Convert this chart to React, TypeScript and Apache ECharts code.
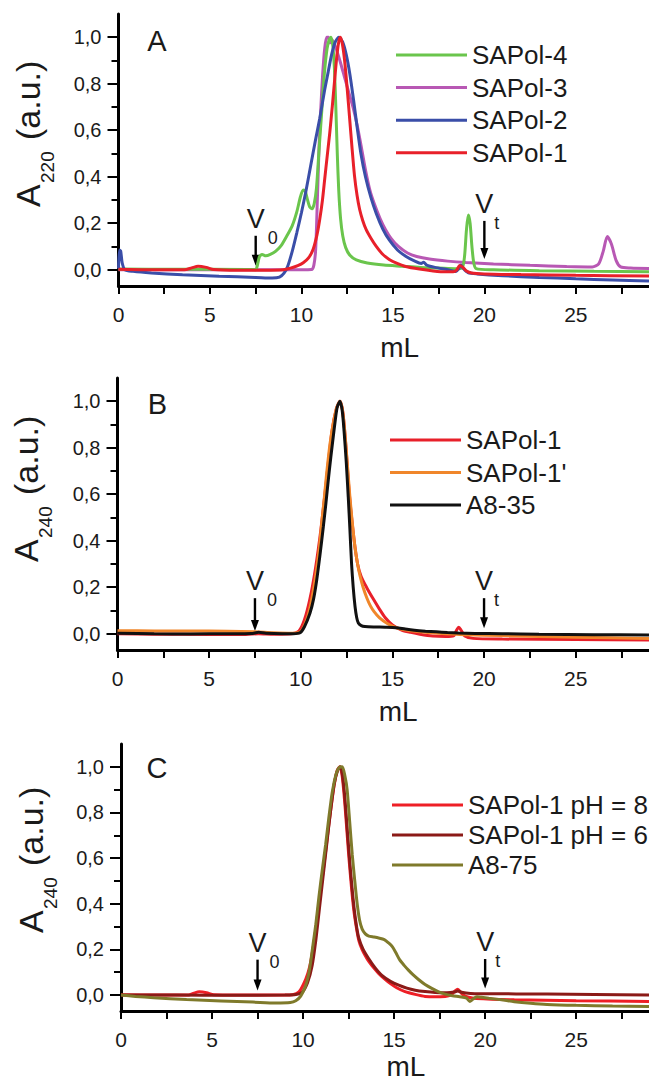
import React, { useEffect, useRef } from "react";
import * as echarts from "echarts";

type P = [number, number][];

const FONT = "'Liberation Sans', Arial, Helvetica, sans-serif";

// ---------- Panel A (A220) ----------
const sapol4A: P = [
  [0, 0.003], [3, 0.002], [7.0, 0.001], [7.5, 0.0], [7.58, 0.015], [7.7, 0.055], [7.85, 0.066], [8.05, 0.06],
  [8.3, 0.066], [8.6, 0.08], [8.9, 0.105], [9.2, 0.145], [9.5, 0.19], [9.75, 0.25], [9.95, 0.315], [10.1, 0.343],
  [10.2, 0.34], [10.32, 0.305], [10.45, 0.27], [10.58, 0.262], [10.7, 0.285], [10.82, 0.35], [10.95, 0.5],
  [11.1, 0.67], [11.25, 0.84], [11.4, 0.95], [11.52, 0.99], [11.62, 1.0], [11.72, 0.96], [11.8, 0.87],
  [11.88, 0.7], [11.96, 0.5], [12.04, 0.34], [12.14, 0.22], [12.26, 0.145], [12.42, 0.095], [12.65, 0.062],
  [13.0, 0.042], [13.6, 0.029], [14.5, 0.02], [15.5, 0.015], [16.5, 0.01], [17.5, 0.007], [18.5, 0.004],
  [18.8, 0.01], [18.92, 0.06], [19.02, 0.17], [19.12, 0.235], [19.22, 0.2], [19.32, 0.1], [19.42, 0.03],
  [19.55, 0.005], [20.5, 0.0], [23, -0.004], [26, -0.007], [29, -0.009],
];
const sapol3A: P = [
  [0, 0.0], [5, 0.0], [10.0, 0.0], [10.55, 0.001], [10.68, 0.02], [10.78, 0.09], [10.87, 0.3], [10.96, 0.52],
  [11.05, 0.68], [11.16, 0.84], [11.27, 0.95], [11.38, 1.0], [11.48, 1.0], [11.56, 0.975], [11.64, 0.99],
  [11.75, 0.98], [11.9, 0.95], [12.1, 0.9], [12.35, 0.83], [12.6, 0.76], [12.85, 0.69], [13.05, 0.62],
  [13.27, 0.53], [13.5, 0.43], [13.75, 0.34], [14.0, 0.28], [14.3, 0.22], [14.6, 0.172], [14.9, 0.135],
  [15.3, 0.1], [15.8, 0.072], [16.3, 0.057], [17.0, 0.046], [18.0, 0.037], [19.0, 0.031], [20.5, 0.025],
  [22.5, 0.019], [24.5, 0.014], [25.9, 0.012], [26.25, 0.025], [26.5, 0.08], [26.72, 0.143], [26.95, 0.11],
  [27.2, 0.04], [27.45, 0.012], [28, 0.007], [29, 0.005],
];
const sapol2A: P = [
  [0, 0.005], [0.05, 0.085], [0.12, 0.08], [0.2, 0.03], [0.35, 0.0], [0.8, -0.007], [1.8, -0.014], [3.5, -0.022],
  [5.5, -0.028], [7.5, -0.033], [8.4, -0.036], [8.8, -0.032], [9.05, -0.015], [9.25, 0.015], [9.5, 0.08],
  [9.75, 0.16], [10.0, 0.245], [10.25, 0.34], [10.5, 0.445], [10.75, 0.55], [11.0, 0.65], [11.25, 0.765],
  [11.46, 0.85], [11.65, 0.925], [11.85, 0.98], [12.05, 1.0], [12.25, 0.98], [12.45, 0.925], [12.65, 0.84],
  [12.85, 0.73], [13.05, 0.61], [13.25, 0.5], [13.5, 0.4], [13.8, 0.31], [14.1, 0.24], [14.45, 0.175],
  [14.8, 0.128], [15.25, 0.085], [15.72, 0.057], [16.2, 0.037], [16.55, 0.027], [16.68, 0.032], [16.85, 0.02],
  [17.3, 0.01], [18.0, 0.0], [18.45, -0.008], [18.6, 0.005], [18.72, 0.02], [18.85, 0.005], [19.1, -0.012],
  [19.6, -0.018], [21, -0.026], [23, -0.033], [25, -0.039], [27, -0.044], [29, -0.049],
];
const sapol1A: P = [
  [0, 0.002], [1.5, 0.0], [3.6, 0.0], [4.0, 0.008], [4.35, 0.015], [4.8, 0.01], [5.2, 0.001], [6.5, -0.002],
  [8.0, -0.002], [9.0, 0.0], [9.4, 0.007], [9.8, 0.018], [10.1, 0.03], [10.4, 0.052], [10.64, 0.088],
  [10.85, 0.15], [11.0, 0.216], [11.15, 0.3], [11.27, 0.388], [11.41, 0.49], [11.55, 0.59], [11.69, 0.705],
  [11.82, 0.82], [11.95, 0.93], [12.05, 0.985], [12.13, 1.0], [12.24, 0.97], [12.36, 0.9], [12.5, 0.78],
  [12.64, 0.646], [12.77, 0.52], [12.9, 0.405], [13.04, 0.32], [13.18, 0.26], [13.35, 0.212], [13.54, 0.172],
  [13.8, 0.135], [14.09, 0.1], [14.4, 0.07], [14.8, 0.044], [15.2, 0.028], [15.7, 0.014], [16.45, 0.003],
  [17.2, -0.005], [17.9, -0.009], [18.3, -0.009], [18.5, 0.0], [18.65, 0.018], [18.8, 0.012], [19.0, -0.004],
  [19.3, -0.014], [20, -0.018], [22, -0.021], [25, -0.024], [29, -0.027],
];

// ---------- Panel B (A240) ----------
const sapol1B: P = [
  [0, 0.0], [2, -0.002], [5, -0.003], [7, -0.003], [7.7, 0.0], [8.5, -0.002], [9.5, 0.0], [9.9, 0.012],
  [10.2, 0.06], [10.5, 0.15], [10.8, 0.28], [11.1, 0.45], [11.4, 0.66], [11.7, 0.87], [11.95, 0.97],
  [12.14, 1.0], [12.3, 0.95], [12.45, 0.82], [12.65, 0.6], [12.9, 0.41], [13.1, 0.3], [13.3, 0.245],
  [13.6, 0.198], [13.95, 0.15], [14.3, 0.105], [14.6, 0.07], [15.0, 0.038], [15.5, 0.016], [16.0, 0.006],
  [16.5, -0.002], [17.2, -0.01], [17.9, -0.012], [18.35, -0.008], [18.5, 0.015], [18.62, 0.028], [18.75, 0.015],
  [18.95, -0.01], [19.4, -0.02], [21, -0.023], [25, -0.025], [29, -0.027],
];
const sapol1pB: P = [
  [0, 0.013], [2, 0.012], [4, 0.012], [6, 0.011], [7.5, 0.008], [8.5, 0.004], [9.5, 0.002], [10.0, 0.01],
  [10.32, 0.06], [10.55, 0.13], [10.78, 0.231], [11.0, 0.36], [11.14, 0.474], [11.28, 0.58], [11.41, 0.689],
  [11.6, 0.82], [11.77, 0.903], [11.95, 0.97], [12.14, 1.0], [12.28, 0.96], [12.41, 0.86], [12.55, 0.72],
  [12.68, 0.589], [12.82, 0.47], [12.96, 0.37], [13.1, 0.3], [13.23, 0.25], [13.4, 0.2], [13.6, 0.155],
  [13.8, 0.12], [14.0, 0.095], [14.3, 0.068], [14.7, 0.045], [15.1, 0.029], [15.6, 0.018], [16.5, 0.008],
  [17.5, 0.002], [19, -0.004], [21, -0.008], [25, -0.015], [29, -0.021],
];
const a835B: P = [
  [0, 0.002], [2, 0.0], [4, -0.001], [6, 0.0], [7.3, 0.001], [7.7, 0.006], [8.1, 0.002], [9.0, 0.0], [9.6, 0.0],
  [9.96, 0.004], [10.2, 0.03], [10.5, 0.088], [10.7, 0.15], [10.87, 0.231], [11.05, 0.34], [11.23, 0.46],
  [11.37, 0.56], [11.5, 0.66], [11.64, 0.76], [11.77, 0.846], [11.9, 0.93], [11.99, 0.975], [12.14, 1.0],
  [12.26, 0.96], [12.36, 0.874], [12.48, 0.74], [12.59, 0.589], [12.68, 0.45], [12.77, 0.303], [12.86, 0.2],
  [12.96, 0.117], [13.05, 0.07], [13.14, 0.046], [13.3, 0.035], [13.5, 0.031], [14.0, 0.029], [14.6, 0.028],
  [15.2, 0.026], [15.7, 0.02], [16.2, 0.015], [16.8, 0.011], [17.4, 0.008], [18.0, 0.005], [18.6, 0.003],
  [19.5, 0.001], [21, 0.0], [23, -0.002], [26, -0.004], [29, -0.005],
];

// ---------- Panel C (A240) ----------
const ph8C: P = [
  [0, 0.001], [2, 0.0], [3.7, 0.0], [4.0, 0.008], [4.3, 0.014], [4.7, 0.01], [5.1, 0.001], [7, 0.0], [9.0, 0.0],
  [9.42, 0.001], [9.78, 0.014], [10.15, 0.07], [10.35, 0.12], [10.51, 0.186], [10.7, 0.29], [10.87, 0.401],
  [11.05, 0.51], [11.24, 0.63], [11.42, 0.75], [11.6, 0.86], [11.75, 0.94], [11.88, 0.985], [12.02, 1.0],
  [12.13, 0.97], [12.24, 0.89], [12.38, 0.75], [12.51, 0.61], [12.65, 0.48], [12.79, 0.37], [12.92, 0.3],
  [13.06, 0.24], [13.24, 0.2], [13.42, 0.172], [13.6, 0.148], [13.79, 0.128], [14.15, 0.095], [14.46, 0.072],
  [14.8, 0.05], [15.14, 0.032], [15.6, 0.015], [16.16, 0.003], [16.7, -0.006], [17.25, -0.008], [17.8, -0.006],
  [18.1, -0.001], [18.35, 0.018], [18.5, 0.025], [18.65, 0.012], [18.8, 0.0], [19.1, -0.01], [19.5, -0.015],
  [21.6, -0.021], [25, -0.025], [29, -0.028],
];
const ph6C: P = [
  [0, 0.0], [3, 0.0], [6, -0.001], [9.0, 0.0], [9.6, 0.002], [9.95, 0.012], [10.25, 0.055], [10.5, 0.13],
  [10.7, 0.24], [10.9, 0.38], [11.1, 0.52], [11.3, 0.66], [11.5, 0.8], [11.7, 0.92], [11.9, 0.985], [12.05, 1.0],
  [12.17, 0.96], [12.3, 0.86], [12.45, 0.7], [12.6, 0.55], [12.75, 0.42], [12.9, 0.32], [13.06, 0.25],
  [13.3, 0.2], [13.6, 0.16], [13.95, 0.12], [14.33, 0.086], [14.8, 0.06], [15.25, 0.043], [15.7, 0.03],
  [16.16, 0.021], [16.7, 0.015], [17.25, 0.011], [17.9, 0.01], [18.3, 0.013], [18.5, 0.018], [18.7, 0.012],
  [19.2, 0.007], [20, 0.006], [23.4, 0.004], [26, 0.002], [29, 0.0],
];
const a875C: P = [
  [0, 0.0], [0.8, -0.006], [1.8, -0.012], [3.6, -0.02], [5.5, -0.026], [7.25, -0.031], [8.5, -0.035],
  [9.3, -0.033], [9.6, -0.025], [9.87, -0.005], [10.15, 0.043], [10.35, 0.11], [10.51, 0.2], [10.7, 0.31],
  [10.87, 0.43], [11.05, 0.545], [11.24, 0.66], [11.42, 0.78], [11.6, 0.888], [11.8, 0.965], [11.97, 0.996],
  [12.15, 1.0], [12.3, 0.96], [12.42, 0.9], [12.56, 0.76], [12.7, 0.616], [12.84, 0.5], [12.97, 0.401],
  [13.1, 0.33], [13.24, 0.29], [13.42, 0.268], [13.61, 0.258], [13.9, 0.254], [14.15, 0.25], [14.46, 0.243],
  [14.7, 0.228], [14.9, 0.212], [15.1, 0.185], [15.3, 0.155], [15.55, 0.13], [15.8, 0.108], [16.05, 0.088],
  [16.34, 0.068], [16.7, 0.046], [17.07, 0.029], [17.45, 0.014], [17.8, 0.004], [18.2, -0.003], [18.6, -0.008],
  [18.98, -0.014], [19.16, -0.028], [19.3, -0.02], [19.55, -0.008], [19.8, -0.01], [20.2, -0.014],
  [21.0, -0.022], [21.6, -0.029], [22.5, -0.036], [23.4, -0.041], [25, -0.045], [27, -0.048], [29, -0.05],
];

// ---------- axes / labels ----------
const xTickValues = [0, 2.5, 5, 7.5, 10, 12.5, 15, 17.5, 20, 22.5, 25, 27.5];
const xLabelValues = [0, 5, 10, 15, 20, 25];
const yTickValues = [0, 0.2, 0.4, 0.6, 0.8, 1.0];
const xMin = 0;
const xMax = 29;
const yMin = -0.07;
const yMax = 1.1;

const panelLetters = ["A", "B", "C"];
const yNameSubs = ["220", "240", "240"];

const legendA = ["SAPol-4", "SAPol-3", "SAPol-2", "SAPol-1"];
const legendB = ["SAPol-1", "SAPol-1'", "A8-35"];
const legendC = ["SAPol-1 pH = 8", "SAPol-1 pH = 6", "A8-75"];

// void volume / total volume markers: [panel, subscript, mL, arrow top, arrow tip]
const markerPanel = [0, 0, 1, 1, 2, 2];
const markerSub = ["0", "t", "0", "t", "0", "t"];
const markerX = [7.5, 20, 7.5, 20, 7.5, 20];
const markerTop = [0.146, 0.21, 0.153, 0.153, 0.155, 0.158];
const markerTip = [0.017, 0.046, 0.012, 0.024, 0.02, 0.029];

const seriesDefs = [
  { name: "SAPol-3", data: sapol3A, color: "#b858b4", g: 0 },
  { name: "SAPol-4", data: sapol4A, color: "#6ac54c", g: 0 },
  { name: "SAPol-2", data: sapol2A, color: "#3a4ea8", g: 0 },
  { name: "SAPol-1", data: sapol1A, color: "#e8202a", g: 0 },
  { name: "SAPol-1", data: sapol1B, color: "#e8202a", g: 1 },
  { name: "SAPol-1'", data: sapol1pB, color: "#f0862a", g: 1 },
  { name: "A8-35", data: a835B, color: "#111111", g: 1 },
  { name: "SAPol-1 pH = 8", data: ph8C, color: "#ee1f26", g: 2 },
  { name: "SAPol-1 pH = 6", data: ph6C, color: "#8b1a17", g: 2 },
  { name: "A8-75", data: a875C, color: "#7f7a2b", g: 2 },
];

const gridLayout = [
  { left: 118.5, top: 14 },
  { left: 117.5, top: 378 },
  { left: 121, top: 744 },
];
const GRID_H = 272;
const TEXT = "#1a1a1a";

function fmtY(v: number) {
  if (Math.abs(v * 5 - Math.round(v * 5)) > 1e-6) return "";
  return v.toFixed(1).replace(".", ",");
}

function buildOption(): any {
  const nameGaps = [47, 47, 41];
  const namePad = [32, 30, 42];
  const grid = gridLayout.map((g) => ({ left: g.left, right: 0, top: g.top, height: GRID_H, containLabel: false }));
  const xAxis = gridLayout.map((_, i) => ({
    gridIndex: i,
    type: "value",
    min: xMin,
    max: xMax,
    axisLine: { show: true, onZero: false, lineStyle: { color: "#000", width: 3 } },
    axisTick: { show: true, length: 8, customValues: xTickValues, lineStyle: { color: "#000", width: 2 } },
    axisLabel: {
      customValues: xLabelValues,
      formatter: (v: number) => (Math.abs(v / 5 - Math.round(v / 5)) < 1e-6 ? String(v) : ""),
      fontSize: 21,
      fontFamily: FONT,
      color: TEXT,
      margin: 18,
    },
    splitLine: { show: false },
    name: "mL",
    nameLocation: "middle",
    nameGap: nameGaps[i],
    nameTextStyle: { fontSize: 28, fontFamily: FONT, color: TEXT, padding: [0, 0, 0, namePad[i]] },
  }));
  const yAxis = gridLayout.map((_, i) => ({
    gridIndex: i,
    type: "value",
    min: yMin,
    max: yMax,
    axisLine: { show: true, onZero: false, lineStyle: { color: "#000", width: 3 } },
    axisTick: { show: true, length: 11, customValues: yTickValues, lineStyle: { color: "#000", width: 2 } },
    minorTick: { show: true, splitNumber: 2, length: 7, lineStyle: { color: "#000", width: 2 } },
    axisLabel: { customValues: yTickValues, formatter: fmtY, fontSize: 20, fontFamily: FONT, color: TEXT, margin: 17 },
    splitLine: { show: false },
    minorSplitLine: { show: false },
  }));
  const series = seriesDefs.map((s) => ({
    type: "line",
    name: s.name,
    xAxisIndex: s.g,
    yAxisIndex: s.g,
    data: s.data,
    symbol: "none",
    showSymbol: false,
    smooth: 0.25,
    color: s.color,
    itemStyle: { color: s.color },
    lineStyle: { width: 3, color: s.color },
    silent: true,
  }));
  const legendBase = {
    orient: "vertical",
    itemWidth: 71,
    itemHeight: 3,
    icon: "rect",
    padding: 0,
    selectedMode: false,
    textStyle: { fontSize: 26, fontFamily: FONT, color: TEXT, lineHeight: 26 },
  };
  const legend = [
    { ...legendBase, data: legendA, left: 396, top: 42, itemGap: 6.6 },
    { ...legendBase, data: legendB, left: 390, top: 427, itemGap: 6.5 },
    { ...legendBase, data: legendC, left: 392, top: 792, itemGap: 4 },
  ];
  return { animation: false, backgroundColor: "#fff", grid, xAxis, yAxis, series, legend };
}

function buildGraphic(chart: any) {
  const els: any[] = [];
  // panel letters
  const letterPos = [
    [157, 41],
    [157.5, 404],
    [157, 768],
  ];
  panelLetters.forEach((t, i) => {
    els.push({
      type: "text",
      x: letterPos[i][0],
      y: letterPos[i][1],
      style: { text: t, font: `29px ${FONT}`, fill: TEXT, textAlign: "center", textVerticalAlign: "middle", align: "center", verticalAlign: "middle" },
    });
  });
  // y axis names (rotated)
  const yNamePos = [
    [28, 207],
    [26, 562],
    [31, 933],
  ];
  yNameSubs.forEach((sub, i) => {
    const st = (text: string, size: number) => ({
      text,
      font: `${size}px ${FONT}`,
      fill: TEXT,
      textAlign: "left",
      textVerticalAlign: "middle",
      align: "left",
      verticalAlign: "middle",
    });
    els.push({
      type: "group",
      x: yNamePos[i][0],
      y: yNamePos[i][1],
      rotation: Math.PI / 2,
      children: [
        { type: "text", x: 0, y: 0, style: st("A", 34) },
        { type: "text", x: 24, y: 19.5, style: st(sub, 19) },
        { type: "text", x: 67, y: 0, style: st("(a.u.)", 34) },
      ],
    });
  });
  // V0 / Vt markers
  markerPanel.forEach((g, i) => {
    const top = chart.convertToPixel({ gridIndex: g }, [markerX[i], markerTop[i]]);
    const tip = chart.convertToPixel({ gridIndex: g }, [markerX[i], markerTip[i]]);
    const px = top[0];
    const yTop = top[1];
    const yTip = tip[1];
    els.push({ type: "line", shape: { x1: px, y1: yTop, x2: px, y2: yTip - 8 }, style: { stroke: "#000", lineWidth: 2.4 } });
    els.push({
      type: "polygon",
      shape: { points: [[px - 4, yTip - 11], [px + 4, yTip - 11], [px, yTip]] },
      style: { fill: "#000" },
    });
    els.push({
      type: "text",
      x: px,
      y: yTop - 17,
      style: { text: "V", font: `27px ${FONT}`, fill: TEXT, textAlign: "center", textVerticalAlign: "middle", align: "center", verticalAlign: "middle" },
    });
    els.push({
      type: "text",
      x: px + (markerSub[i] === "0" ? 12 : 10),
      y: yTop + 2,
      style: { text: markerSub[i], font: `18px ${FONT}`, fill: TEXT, textAlign: "left", textVerticalAlign: "middle", align: "left", verticalAlign: "middle" },
    });
  });
  return els;
}

export default function App() {
  const ref = useRef<HTMLDivElement>(null);
  useEffect(() => {
    if (!ref.current) return;
    const chart = echarts.init(ref.current, null, { renderer: "svg" });
    chart.setOption(buildOption());
    chart.setOption({ graphic: buildGraphic(chart) });
    return () => chart.dispose();
  }, []);
  return (
    <div
      ref={ref}
      style={{ position: "absolute", left: 0, top: 0, width: 649, height: 1081, background: "#fff" }}
    />
  );
}
